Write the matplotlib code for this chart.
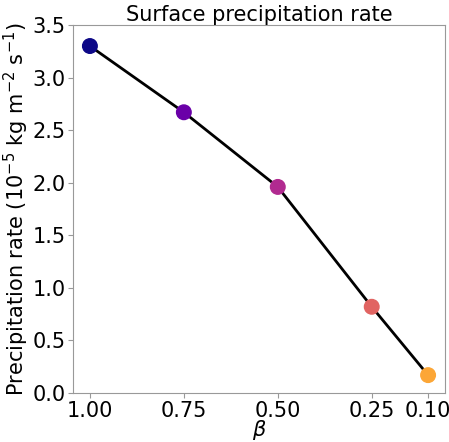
import matplotlib
matplotlib.use("Agg")
import matplotlib.pyplot as plt
import numpy as np

beta = [1.00, 0.75, 0.50, 0.25, 0.10]
precip = [3.30, 2.67, 1.96, 0.82, 0.17]
xtick_labels = ["1.00", "0.75", "0.50", "0.25", "0.10"]
color_fracs = [0.0, 0.2, 0.4, 0.6, 0.8]

fig = plt.figure(figsize=(4.49, 4.42), dpi=100)
ax = fig.add_axes([73/449, 1-393/442, (445-73)/449, (393-25)/442])

ax.plot(beta, precip, color="black", lw=2, zorder=1)
cmap = plt.get_cmap("plasma")
ax.scatter(beta, precip, c=[cmap(f) for f in color_fracs], s=110, zorder=2)

ax.set_xlim(1.045, 0.055)
ax.set_ylim(0, 3.5)
ax.set_xticks(beta)
ax.set_xticklabels(xtick_labels)
ax.set_yticks(np.arange(0, 3.51, 0.5))
ax.tick_params(labelsize=15, color="#999999", pad=2)
for s in ax.spines.values():
    s.set_color("#999999")
ax.set_xlabel(r"$\beta$", fontsize=15, labelpad=-2)
ax.set_ylabel(r"Precipitation rate (10$^{-5}$ kg m$^{-2}$ s$^{-1}$)", fontsize=15, labelpad=1)
ax.set_title("Surface precipitation rate", fontsize=15, pad=1)

fig.savefig("out.png", dpi=100)
